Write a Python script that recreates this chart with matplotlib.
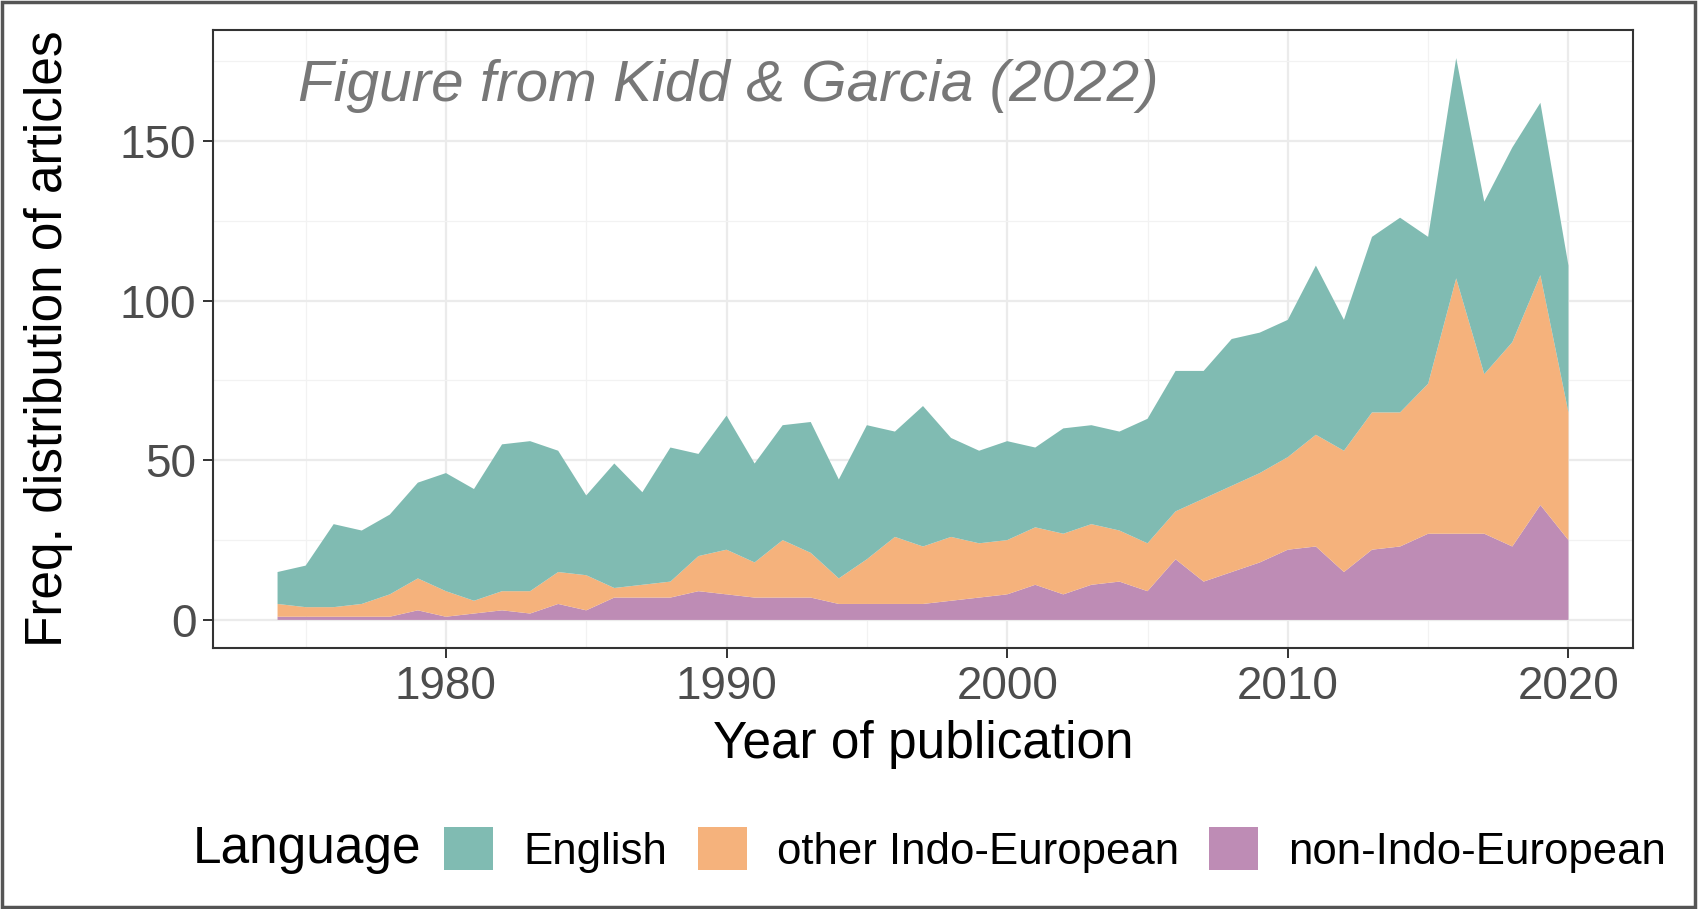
import numpy as np
import matplotlib.pyplot as plt
from matplotlib.patches import Rectangle, Patch

plt.rcParams['font.family'] = ['Liberation Sans', 'DejaVu Sans']

years = list(range(1974, 2021))
# article counts per year
non_ie = [1, 1, 1, 1, 1, 3, 1, 2, 3, 2, 5, 3, 7, 7, 7, 9, 8,
          7, 7, 7, 5, 5, 5, 5, 6, 7, 8, 11, 8, 11, 12, 9, 19,
          12, 15, 18, 22, 23, 15, 22, 23, 27, 27, 27, 23, 36, 25]
other_ie = [4, 3, 3, 4, 7, 10, 8, 4, 6, 7, 10, 11, 3, 4, 5, 11, 14,
            11, 18, 14, 8, 14, 21, 18, 20, 17, 17, 18, 19, 19, 16, 15, 15,
            26, 27, 28, 29, 35, 38, 43, 42, 47, 80, 50, 64, 72, 40]
english = [10, 13, 26, 23, 25, 30, 37, 35, 46, 47, 38, 25, 39, 29, 42, 32, 42,
           31, 36, 41, 31, 42, 33, 44, 31, 29, 31, 25, 33, 31, 31, 39, 44,
           40, 46, 44, 43, 53, 41, 55, 61, 46, 69, 54, 61, 54, 46]

labels = ["English", "other Indo-European", "non-Indo-European"]
colors = ["#80BBB2", "#F5B27C", "#BE8CB5"]

fig = plt.figure(figsize=(16.98, 9.09), dpi=100)
ax = fig.add_axes([213 / 1698, 1 - 648 / 909, 1420 / 1698, 618 / 909])

ax.stackplot(years, non_ie, other_ie, english,
             colors=[colors[2], colors[1], colors[0]], linewidth=0)

total = np.array(non_ie) + np.array(other_ie) + np.array(english)
span = total.max()
ax.set_xlim(1974 - 46 * 0.05, 2020 + 46 * 0.05)
ax.set_ylim(-span * 0.05, span * 1.05)

ax.set_xticks([1980, 1990, 2000, 2010, 2020])
ax.set_xticks([1975, 1985, 1995, 2005, 2015], minor=True)
ax.set_yticks([0, 50, 100, 150])
ax.set_yticks([25, 75, 125, 175], minor=True)
ax.grid(True, which="major", color="#EBEBEB", linewidth=1.6)
ax.grid(True, which="minor", color="#F2F2F2", linewidth=0.9)
ax.set_axisbelow(True)
ax.tick_params(which="major", labelsize=33, labelcolor="#4D4D4D",
               color="#333333", length=7, width=1.4, pad=5)
ax.tick_params(which="minor", length=0)
for s in ax.spines.values():
    s.set_color("#333333")
    s.set_linewidth(1.5)

ax.set_xlabel("Year of publication", fontsize=37, labelpad=8)
ax.set_ylabel("Freq. distribution of articles", fontsize=37, labelpad=34)

ax.text(0.06, 0.91, "Figure from Kidd & Garcia (2022)", transform=ax.transAxes,
        fontsize=42, style="italic", color="#777777", va="center", ha="left")

# legend along the bottom, title on the left
fig.text(193 / 1698, 1 - 850 / 909, "Language", fontsize=37, va="center", ha="left")
handles = [Patch(facecolor=c, edgecolor="none") for c in colors]
fig.legend(handles, labels, loc="center left", bbox_to_anchor=(405 / 1698, 1 - 850 / 909),
           ncol=3, frameon=False, fontsize=31.5, handlelength=1.12, handleheight=1.12,
           handletextpad=0.69, columnspacing=0.69)

fig.patches.append(Rectangle((0.001, 0.002), 0.997, 0.996, transform=fig.transFigure,
                             fill=False, edgecolor="#555555", linewidth=2.5))

plt.savefig("out.png", dpi=100)
